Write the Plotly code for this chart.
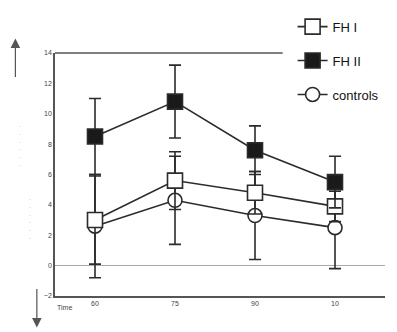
import plotly.graph_objects as go

time_labels = ["60", "75", "90", "10"]
fh1 = [3.0, 5.6, 4.8, 3.9]
fh1_err = [2.9, 1.9, 1.4, 1.0]
fh2 = [8.5, 10.8, 7.6, 5.5]
fh2_err = [2.5, 2.4, 1.6, 1.7]
ctrl = [2.6, 4.3, 3.3, 2.5]
ctrl_err = [3.4, 2.9, 2.9, 2.7]
y_ticks = [-2, 0, 2, 4, 6, 8, 10, 12, 14]

xs = list(range(len(time_labels)))
line_c = "#2b2b2b"

def err(v):
    return dict(type="data", array=v, visible=True, color=line_c, thickness=1.6, width=6)

fig = go.Figure()
fig.add_trace(go.Scatter(x=xs, y=ctrl, name="controls", mode="lines+markers",
                         line=dict(color=line_c, width=1.6), error_y=err(ctrl_err),
                         marker=dict(symbol="circle", size=14, color="white", line=dict(color=line_c, width=1.6)),
                         legendgroup="c", legendrank=3))
fig.add_trace(go.Scatter(x=xs, y=fh1, name="FH I", mode="lines+markers",
                         line=dict(color=line_c, width=1.6), error_y=err(fh1_err),
                         marker=dict(symbol="square", size=15, color="white", line=dict(color=line_c, width=1.6)),
                         legendgroup="a", legendrank=1))
fig.add_trace(go.Scatter(x=xs, y=fh2, name="FH II", mode="lines+markers",
                         line=dict(color=line_c, width=1.6), error_y=err(fh2_err),
                         marker=dict(symbol="square", size=15, color="#1a1a1a", line=dict(color=line_c, width=1.6)),
                         legendgroup="b", legendrank=2))

fig.update_layout(
    width=397, height=332,
    margin=dict(l=55, r=12, t=40, b=36),
    paper_bgcolor="white", plot_bgcolor="white",
    font=dict(family="Liberation Sans, Arial, sans-serif", color="#333"),
    showlegend=True,
    legend=dict(x=0.72, y=1.17, xanchor="left", yanchor="top", bgcolor="rgba(255,255,255,0)",
                font=dict(size=13, color="#111"), traceorder="grouped", tracegroupgap=14),
    xaxis=dict(range=[-0.5, 3.625], tickmode="array", tickvals=xs, ticktext=time_labels,
               showgrid=False, zeroline=False, showline=True, linecolor="#555", linewidth=1.5,
               ticks="", tickfont=dict(size=7, color="#444")),
    yaxis=dict(range=[-2, 14], tickvals=y_ticks, showgrid=False,
               zeroline=True, zerolinecolor="#aaa", zerolinewidth=1,
               showline=True, linecolor="#555", linewidth=1.5, ticks="",
               tickfont=dict(size=7, color="#444")),
    shapes=[dict(type="line", xref="paper", yref="paper", x0=0, x1=0.69, y0=1, y1=1,
                 line=dict(color="#555", width=1.5))],
)

fig.add_annotation(text="Time", xref="paper", yref="paper", x=0.0, y=-0.07,
                   showarrow=False, font=dict(size=7, color="#444"))
# arrows on the left
fig.add_annotation(xref="paper", yref="paper", x=-0.12, y=1.06, ax=0, ay=40,
                   showarrow=True, arrowhead=2, arrowsize=1.6, arrowwidth=1.2, arrowcolor="#555", text="")
fig.add_annotation(xref="paper", yref="paper", x=-0.055, y=-0.13, ax=0, ay=-40,
                   showarrow=True, arrowhead=2, arrowsize=1.6, arrowwidth=1.2, arrowcolor="#555", text="")
for xx, yy in [(-0.115, 0.72), (-0.085, 0.22)]:
    fig.add_annotation(xref="paper", yref="paper", x=xx, y=yy, showarrow=False,
                       text="·<br>·<br>·<br>·<br>·<br>·", font=dict(size=6, color="#777"))

fig.write_html("out.html")
